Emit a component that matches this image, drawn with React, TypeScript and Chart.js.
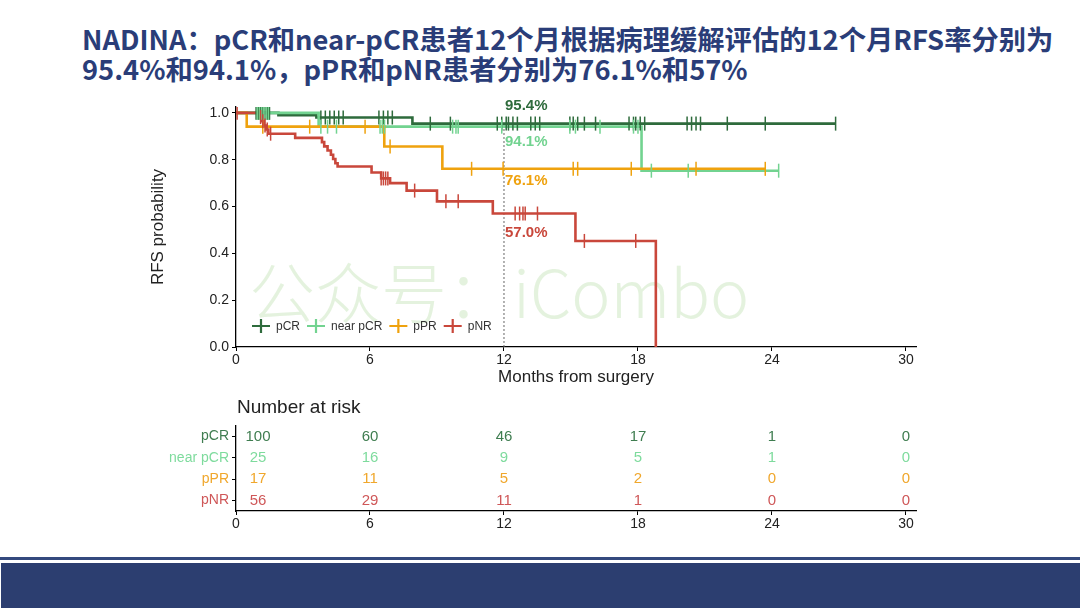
import React, { useEffect, useRef } from 'react';
import { Chart, registerables } from 'chart.js';

Chart.register(...registerables);

// ---------- data ----------
const groups = ['pCR', 'near pCR', 'pPR', 'pNR'];
const lineColors = ['#2e6b3c', '#72d390', '#efa20e', '#c9473b'];
const riskColors = ['#3f7d50', '#7edb9d', '#f0a72c', '#cf5758'];
const monthTicks = [0, 6, 12, 18, 24, 30];
const probTicks = [0, 0.2, 0.4, 0.6, 0.8, 1.0];

const pcrTimes = [0, 1.9, 3.6, 7.9, 26.85];
const pcrSurv = [1, 0.99, 0.98, 0.954, 0.954];
const pcrCensor = [0.9, 1.0, 1.1, 1.2, 1.3, 1.4, 1.5, 3.8, 4.0, 4.2, 4.4, 4.6, 4.8, 6.4, 6.6, 6.8, 7.0, 8.7, 9.6, 11.7, 11.9, 12.1, 12.2, 12.4, 12.6, 13.2, 13.4, 13.6, 14.95, 15.1, 15.3, 15.6, 16.1, 17.6, 17.8, 17.9, 18.1, 18.3, 20.2, 20.4, 20.6, 20.8, 22.0, 23.7, 26.85];

const nearTimes = [0, 3.7, 18.16, 24.3];
const nearSurv = [1, 0.941, 0.753, 0.753];
const nearCensor = [0.95, 1.05, 1.15, 1.25, 1.35, 1.45, 3.8, 4.1, 4.5, 6.45, 6.55, 6.65, 9.7, 9.85, 9.95, 11.9, 14.95, 15.2, 16.3, 17.8, 18.0, 18.6, 20.25, 24.3];

const pprTimes = [0, 0.48, 6.64, 9.24, 23.7];
const pprSurv = [1, 0.941, 0.856, 0.761, 0.761];
const pprCensor = [1.2, 3.3, 5.78, 6.9, 10.55, 11.96, 15.1, 15.3, 17.7, 20.6, 23.7];

const pnrTimes = [0, 1.05, 1.15, 1.25, 1.35, 1.45, 2.65, 3.85, 3.95, 4.1, 4.25, 4.35, 4.45, 4.55, 6.07, 6.5, 6.9, 7.64, 9.0, 11.5, 15.2, 18.8];
const pnrSurv = [1, 0.982, 0.964, 0.946, 0.929, 0.911, 0.893, 0.875, 0.857, 0.839, 0.821, 0.803, 0.785, 0.771, 0.745, 0.72, 0.70, 0.668, 0.622, 0.57, 0.453, 0];
const pnrCensor = [0.05, 1.1, 1.2, 1.3, 1.4, 1.55, 6.5, 6.6, 6.7, 6.8, 8.0, 9.4, 9.95, 12.5, 12.7, 12.85, 12.95, 13.5, 15.6, 17.9];

const rates12 = [95.4, 94.1, 76.1, 57.0];
const landmarkMonth = 12;

const riskPCR = [100, 60, 46, 17, 1, 0];
const riskNear = [25, 16, 9, 5, 1, 0];
const riskPPR = [17, 11, 5, 2, 0, 0];
const riskPNR = [56, 29, 11, 1, 0, 0];

const titleLine1 = 'NADINA：pCR和near-pCR患者12个月根据病理缓解评估的12个月RFS率分别为';
const titleLine2 = '95.4%和94.1%，pPR和pNR患者分别为76.1%和57%';
const watermark = '公众号：iCombo';
const xTitle = 'Months from surgery';
const yTitle = 'RFS probability';
const riskTitle = 'Number at risk';

// ---------- helpers ----------
const kmTimes = [pcrTimes, nearTimes, pprTimes, pnrTimes];
const kmSurv = [pcrSurv, nearSurv, pprSurv, pnrSurv];
const kmCensor = [pcrCensor, nearCensor, pprCensor, pnrCensor];
const riskRows = [riskPCR, riskNear, riskPPR, riskPNR];

function survAt(times: number[], surv: number[], t: number) {
  let v = surv[0];
  for (let i = 0; i < times.length; i++) if (times[i] <= t) v = surv[i];
  return v;
}

const FONT = '"Liberation Sans", Arial, sans-serif';
const X_MAX = 30.45;
const Y_MAX = 1.025;

const labelOffsets = [-18, 15, 12, 19];

const kmPlugin = {
  id: 'kmDecor',
  beforeDatasetsDraw(chart: any) {
    const { ctx, chartArea, scales } = chart;
    ctx.save();
    // watermark
    ctx.fillStyle = 'rgba(205,232,195,0.55)';
    ctx.font = '300 66px "Noto Sans CJK SC", sans-serif';
    ctx.textAlign = 'left';
    ctx.textBaseline = 'middle';
    ctx.fillText(watermark, chartArea.left + 13, chartArea.top + 186);
    // landmark dotted line
    const x = scales.x.getPixelForValue(landmarkMonth);
    ctx.strokeStyle = '#666';
    ctx.lineWidth = 1;
    ctx.setLineDash([2, 2]);
    ctx.beginPath();
    ctx.moveTo(x, scales.y.getPixelForValue(0));
    ctx.lineTo(x, scales.y.getPixelForValue(Math.max(...rates12) / 100));
    ctx.stroke();
    ctx.restore();
  },
  afterDatasetsDraw(chart: any) {
    const { ctx, chartArea, scales } = chart;
    ctx.save();
    // percentage labels
    ctx.font = `bold 15px ${FONT}`;
    ctx.textAlign = 'left';
    ctx.textBaseline = 'middle';
    const x = scales.x.getPixelForValue(landmarkMonth) + 1;
    rates12.forEach((r, i) => {
      ctx.fillStyle = lineColors[i];
      ctx.fillText(r.toFixed(1) + '%', x, scales.y.getPixelForValue(r / 100) + labelOffsets[i]);
    });
    // legend
    ctx.font = `12px ${FONT}`;
    let lx = chartArea.left + 25;
    const ly = chartArea.bottom - 21;
    groups.forEach((g, i) => {
      ctx.strokeStyle = lineColors[i];
      ctx.lineWidth = 2.2;
      ctx.beginPath();
      ctx.moveTo(lx - 9, ly);
      ctx.lineTo(lx + 9, ly);
      ctx.moveTo(lx, ly - 7);
      ctx.lineTo(lx, ly + 7);
      ctx.stroke();
      ctx.fillStyle = '#333';
      ctx.fillText(g, lx + 15, ly + 1);
      lx = lx + 15 + ctx.measureText(g).width + 16;
    });
    // axis titles
    ctx.fillStyle = '#222';
    ctx.font = `17px ${FONT}`;
    ctx.textAlign = 'center';
    ctx.fillText(xTitle, (chartArea.left + chartArea.right) / 2, chartArea.bottom + 30);
    ctx.translate(158, (chartArea.top + chartArea.bottom) / 2);
    ctx.rotate(-Math.PI / 2);
    ctx.fillText(yTitle, 0, 0);
    ctx.restore();
  },
};

const riskPlugin = {
  id: 'riskDecor',
  afterDatasetsDraw(chart: any) {
    const { ctx, chartArea } = chart;
    ctx.save();
    ctx.font = `15px ${FONT}`;
    ctx.textAlign = 'center';
    ctx.textBaseline = 'middle';
    chart.data.datasets.forEach((ds: any, i: number) => {
      const meta = chart.getDatasetMeta(i);
      ctx.fillStyle = riskColors[i];
      meta.data.forEach((pt: any, j: number) => {
        const shift = j === 0 ? 22 : 0;
        ctx.fillText(String(ds.data[j].n), pt.x + shift, pt.y);
      });
    });
    ctx.fillStyle = '#222';
    ctx.font = `19px ${FONT}`;
    ctx.textAlign = 'left';
    ctx.fillText(riskTitle, chartArea.left + 1, chartArea.top - 18);
    ctx.restore();
  },
};

const axisGrid = {
  display: true,
  drawOnChartArea: false,
  drawTicks: true,
  tickLength: 4,
  color: '#000',
  lineWidth: 1,
};
const axisBorder = { display: true, color: '#000', width: 1.3 };

export default function App() {
  const mainRef = useRef<HTMLCanvasElement>(null);
  const riskRef = useRef<HTMLCanvasElement>(null);

  useEffect(() => {
    Chart.defaults.font.family = FONT;
    const lineSets = groups.map((g, i) => ({
      label: g,
      data: kmTimes[i].map((t, k) => ({ x: t, y: kmSurv[i][k] })),
      showLine: true,
      stepped: 'before',
      borderColor: lineColors[i],
      backgroundColor: lineColors[i],
      borderWidth: 2.6,
      pointRadius: 0,
      fill: false,
      order: 10 - i,
    }));
    const censorSets = groups.map((g, i) => ({
      label: g + ' censor',
      data: kmCensor[i].map((t) => ({ x: t, y: survAt(kmTimes[i], kmSurv[i], t) })),
      showLine: false,
      pointStyle: 'line',
      rotation: 90,
      pointRadius: 7,
      pointBorderWidth: 1.5,
      borderColor: lineColors[i],
      backgroundColor: lineColors[i],
      order: 5 - i,
    }));

    const main = new Chart(mainRef.current!, {
      type: 'scatter',
      data: { datasets: [...lineSets, ...censorSets] as any },
      options: {
        responsive: false,
        animation: false,
        devicePixelRatio: 1,
        layout: { padding: { top: 17, right: 164, left: 0, bottom: 0 } },
        plugins: { legend: { display: false }, tooltip: { enabled: false } },
        scales: {
          x: {
            type: 'linear',
            min: 0,
            max: X_MAX,
            afterBuildTicks: (s: any) => { s.ticks = monthTicks.map((v) => ({ value: v })); },
            afterFit: (s: any) => { s.height = 48; },
            ticks: { color: '#222', font: { size: 14 }, padding: 1, autoSkip: false, maxRotation: 0 },
            grid: axisGrid,
            border: axisBorder,
          },
          y: {
            type: 'linear',
            min: 0,
            max: Y_MAX,
            afterBuildTicks: (s: any) => { s.ticks = probTicks.map((v) => ({ value: v })); },
            afterFit: (s: any) => { s.width = 236; },
            ticks: { color: '#222', font: { size: 14 }, padding: 3, callback: (v: any) => Number(v).toFixed(1) },
            grid: axisGrid,
            border: axisBorder,
          },
        },
      } as any,
      plugins: [kmPlugin],
    });

    const riskSets = groups.map((g, i) => ({
      label: g,
      data: monthTicks.map((m, j) => ({ x: m, y: g, n: riskRows[i][j] })),
      showLine: false,
      pointRadius: 0,
    }));

    const risk = new Chart(riskRef.current!, {
      type: 'scatter',
      data: { labels: groups, datasets: riskSets as any },
      options: {
        responsive: false,
        animation: false,
        devicePixelRatio: 1,
        layout: { padding: { top: 31, right: 164, left: 0, bottom: 0 } },
        plugins: { legend: { display: false }, tooltip: { enabled: false } },
        scales: {
          x: {
            type: 'linear',
            min: 0,
            max: X_MAX,
            afterBuildTicks: (s: any) => { s.ticks = monthTicks.map((v) => ({ value: v })); },
            afterFit: (s: any) => { s.height = 24; },
            ticks: { color: '#222', font: { size: 14 }, padding: 1, autoSkip: false, maxRotation: 0 },
            grid: axisGrid,
            border: axisBorder,
          },
          y: {
            type: 'category',
            labels: groups,
            offset: true,
            afterFit: (s: any) => { s.width = 236; },
            ticks: { color: (c: any) => riskColors[c.index], font: { size: 14 }, padding: 3 },
            grid: { ...axisGrid, offset: false },
            border: axisBorder,
          },
        },
      } as any,
      plugins: [riskPlugin],
    });

    return () => {
      main.destroy();
      risk.destroy();
    };
  }, []);

  return (
    <div style={{ position: 'fixed', left: 0, top: 0, width: 1080, height: 608, background: '#fff', overflow: 'hidden' }}>
      <div
        style={{
          position: 'absolute',
          left: 82,
          top: 23,
          fontFamily: '"Noto Sans CJK SC", sans-serif',
          fontWeight: 700,
          fontSize: 27.3,
          lineHeight: '30px',
          color: '#2a3d78',
          whiteSpace: 'nowrap',
        }}
      >
        {titleLine1}
        <br />
        {titleLine2}
      </div>
      <canvas ref={mainRef} width={1080} height={305} style={{ position: 'absolute', left: 0, top: 90, width: 1080, height: 305 }} />
      <canvas ref={riskRef} width={1080} height={140} style={{ position: 'absolute', left: 0, top: 395, width: 1080, height: 140 }} />
      <div style={{ position: 'absolute', left: 0, top: 557, width: 1080, height: 3, background: '#34497e' }} />
      <div style={{ position: 'absolute', left: 1, top: 563, width: 1079, height: 45, background: '#2c3e70' }} />
    </div>
  );
}
